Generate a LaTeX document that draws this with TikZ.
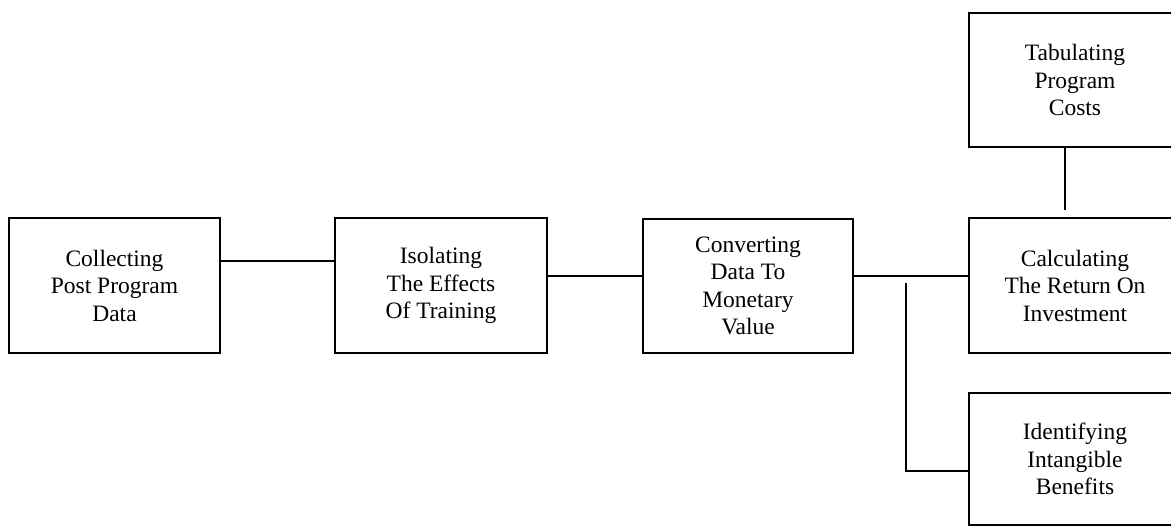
\documentclass[tikz,border=0pt]{standalone}
\usepackage{fontspec}
\setmainfont{Liberation Serif}
\begin{document}
\begin{tikzpicture}[x=1pt,y=-1pt,
  box/.style={draw, line width=1.3pt, rectangle, align=center, inner sep=0pt,
    font=\fontsize{23.5}{27.5}\selectfont},
  conn/.style={line width=1.3pt}]
\path[use as bounding box, clip] (0,0) rectangle (1171,527);
\fill[white] (0,0) rectangle (1171,527);
\node[box, minimum width=211pt, minimum height=135pt] (c1) at (114.5,285.5) {Collecting\\Post Program\\Data};
\node[box, minimum width=212pt, minimum height=135pt] (c2) at (441,285.5) {Isolating\\The Effects\\Of Training};
\node[box, minimum width=210pt, minimum height=134pt] (c3) at (748,286) {Converting\\Data To\\Monetary\\Value};
\node[box, minimum width=212pt, minimum height=135pt] (c4) at (1075,285.5) {Calculating\\The Return On\\Investment};
\node[box, minimum width=212pt, minimum height=134pt] (tab) at (1075,80) {Tabulating\\Program\\Costs};
\node[box, minimum width=212pt, minimum height=132pt] (ide) at (1075,459) {Identifying\\Intangible\\Benefits};
\coordinate (y1) at (0,261);
\coordinate (y2) at (0,276);
\coordinate (b) at (906,283);
\coordinate (bl) at (906,471);
\coordinate (t) at (1065,210);
\draw[conn] (c1.east |- y1) -- (c2.west |- y1);
\draw[conn] (c2.east |- y2) -- (c3.west |- y2);
\draw[conn] (c3.east |- y2) -- (c4.west |- y2);
\draw[conn] (b) -- (bl) -- (ide.west |- bl);
\draw[conn] (tab.south -| t) -- (t);
\end{tikzpicture}
\end{document}
